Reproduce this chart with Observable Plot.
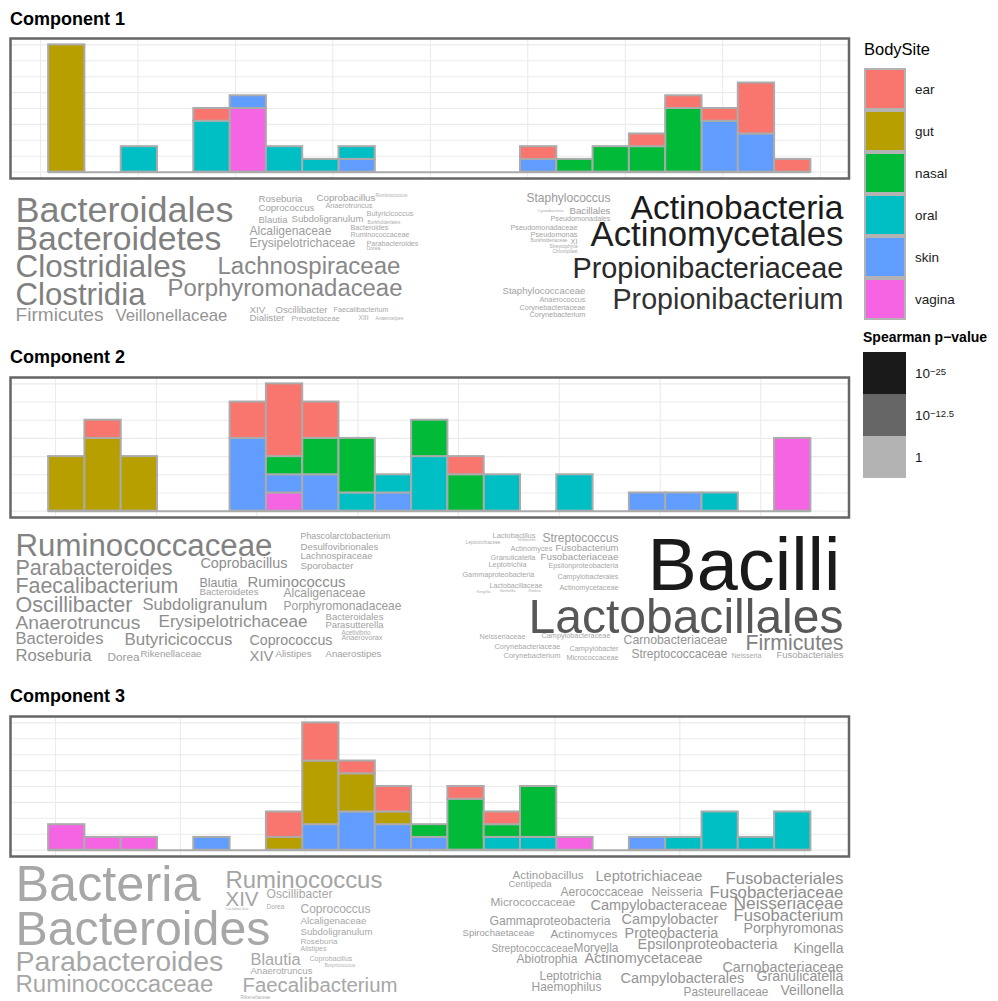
<!DOCTYPE html>
<html><head><meta charset="utf-8">
<script src="https://cdn.jsdelivr.net/npm/d3@7"></script>
<script src="https://cdn.jsdelivr.net/npm/@observablehq/plot@0.6"></script>
<style>
body{margin:0;background:#fff;font-family:"Liberation Sans",Arial,sans-serif;}
#page{position:relative;width:998px;height:1001px;overflow:hidden;background:#fff;}
#page svg{overflow:visible;background:transparent;}
.abs{position:absolute;white-space:nowrap;}
.key{position:absolute;box-sizing:border-box;}
.lab{position:absolute;font-size:13.5px;color:#1a1a1a;height:42px;display:flex;align-items:center;white-space:nowrap;}
.lab sup{font-size:9.5px;position:relative;top:-2px;}
</style></head><body><div id="page"></div>
<script>
// ---------------- data ----------------
const sites = ["ear","gut","nasal","oral","skin","vagina"];
const siteColors = ["#F8766D","#B79F00","#00BA38","#00BFC4","#619CFF","#F564E3"];
const stackBottomUp = ["vagina","skin","oral","nasal","gut","ear"];
const nBins = 21;

// counts per histogram bin (21 bins), Component 1
const c1_ear    = [0,0,0,0,1, 0,0,0,0,0, 0,0,0,1,0, 0,1,1,1,4, 1];
const c1_gut    = [10,0,0,0,0, 0,0,0,0,0, 0,0,0,0,0, 0,0,0,0,0, 0];
const c1_nasal  = [0,0,0,0,0, 0,0,0,0,0, 0,0,0,0,1, 2,2,5,0,0, 0];
const c1_oral   = [0,0,2,0,4, 0,2,1,1,0, 0,0,0,0,0, 0,0,0,0,0, 0];
const c1_skin   = [0,0,0,0,0, 1,0,0,1,0, 0,0,0,1,0, 0,0,0,4,3, 0];
const c1_vagina = [0,0,0,0,0, 5,0,0,0,0, 0,0,0,0,0, 0,0,0,0,0, 0];
// Component 2
const c2_ear    = [0,1,0,0,0, 2,4,2,0,0, 0,1,0,0,0, 0,0,0,0,0, 0];
const c2_gut    = [3,4,3,0,0, 0,0,0,0,0, 0,0,0,0,0, 0,0,0,0,0, 0];
const c2_nasal  = [0,0,0,0,0, 0,1,2,3,0, 2,2,0,0,0, 0,0,0,0,0, 0];
const c2_oral   = [0,0,0,0,0, 0,0,0,1,1, 3,0,2,0,2, 0,0,0,1,0, 0];
const c2_skin   = [0,0,0,0,0, 4,1,2,0,1, 0,0,0,0,0, 0,1,1,0,0, 0];
const c2_vagina = [0,0,0,0,0, 0,1,0,0,0, 0,0,0,0,0, 0,0,0,0,0, 4];
// Component 3
const c3_ear    = [0,0,0,0,0, 0,2,3,1,2, 0,1,1,0,0, 0,0,0,0,0, 0];
const c3_gut    = [0,0,0,0,0, 0,1,5,3,1, 0,0,0,0,0, 0,0,0,0,0, 0];
const c3_nasal  = [0,0,0,0,0, 0,0,0,0,0, 1,4,1,4,0, 0,0,0,0,0, 0];
const c3_oral   = [0,0,0,0,0, 0,0,0,0,0, 0,0,1,1,0, 0,0,1,3,1, 3];
const c3_skin   = [0,0,0,0,1, 0,0,2,3,2, 1,0,0,0,0, 0,1,0,0,0, 0];
const c3_vagina = [2,1,1,0,0, 0,0,0,0,0, 0,0,0,0,1, 0,0,0,0,0, 0];

// grid breaks (bin units / count units)
const c1_gridX = [-0.22, 2.46, 5.15, 7.83, 10.52, 13.2, 15.89, 18.57, 21.26];
const c2_gridX = [0.19, 2.97, 5.74, 8.52, 11.29, 14.07, 16.85, 19.62];
const c3_gridX = [0.19, 3.63, 7.07, 10.51, 13.95, 17.39, 20.83];
const c1_gridY = [0, 1.25, 2.5, 3.75, 5, 6.25, 7.5, 8.75, 10];
const c2_gridY = [0, 1, 2, 3, 4, 5, 6, 7];
const c3_gridY = [0, 1.25, 2.5, 3.75, 5, 6.25, 7.5, 8.75, 10];

// word clouds: [word, x, baseline y, width, log10 p-value]
const cloud1Words = [
 ["Bacteroidales",15,221,218,-8.3],["Bacteroidetes",15,249,206,-8.3],["Clostridiales",15,276,171,-8.3],["Clostridia",15,304,130,-8.3],
 ["Firmicutes",15,320,88,-5],["Veillonellaceae",115,320,112,-5],["Lachnospiraceae",217,273,183,-7],["Porphyromonadaceae",167,295,235,-7],
 ["Roseburia",258,201,44,-3],["Coprobacillus",316,200,59,-3],["Ruminococcus",375,196,32,-1],["Coprococcus",258,210,56,-3],
 ["Anaerotruncus",325,207,47,-2],["Butyricicoccus",366,215,47,-2],["Blautia",258,222,29,-3],["Subdoligranulum",291,221,72,-3],
 ["Burkholderiales",367,223,33,-1],["Alcaligenaceae",249,234,82,-3.5],["Bacteroides",350,229,38,-2],["Ruminococcaceae",350,236,59,-2],
 ["Erysipelotrichaceae",249,246,106,-3.5],["Parabacteroides",366,245,52,-2],["Dorea",366,249,14,-1],
 ["XIV",249,312,16,-2.5],["Oscillibacter",275,312,52,-2.5],["Faecalibacterium",333,311,55,-2],["Dialister",249,320,35,-2.5],
 ["Prevotellaceae",291,320,48,-2],["XIII",358,319,10,-1],["Anaerostipes",375,319,28,-1],
 ["Actinobacteria",630,218,213,-25],["Actinomycetales",590,245,253,-24],["Propionibacteriaceae",572,277,271,-22.5],["Propionibacterium",612,308,231,-21],
 ["Staphylococcus",526,201,84,-4],["Cyanobacteria",537,211,26,-1.5],["Bacillales",569,213,41,-4],["Pseudomonadales",550,220,60,-2.5],
 ["Pseudomonadaceae",510,229,67,-2.5],["Pseudomonas",530,236,47,-2.5],["Burkholderiaceae",530,241,37,-1.5],["XI",570,243,7,-3],
 ["Streptophyta",549,247,28,-1.5],["Chloroplast",552,252,25,-1.5],
 ["Staphylococcaceae",502,293,83,-3],["Anaerococcus",539,301,46,-2],["Corynebacteriaceae",519,309,66,-2.5],["Corynebacterium",529,316,56,-2.5]
];
const cloud2Words = [
 ["Ruminococcaceae",15,555,257,-8],["Parabacteroides",15,574,157,-6.5],["Faecalibacterium",15,592,163,-6.5],["Oscillibacter",15,611,117,-6.5],
 ["Anaerotruncus",15,628,125,-6],["Bacteroides",15,643,88,-6],["Roseburia",15,660,76,-6],["Coprobacillus",200,567,87,-6],
 ["Phascolarctobacterium",300,538,90,-3],["Desulfovibrionales",300,549,78,-3],["Lachnospiraceae",300,558,72,-3],["Sporobacter",300,568,53,-3],
 ["Blautia",199,586,38,-6],["Ruminococcus",247,586,98,-6],["Bacteroidetes",199,594,59,-3],["Alcaligenaceae",283,596,82,-4],
 ["Subdoligranulum",142,609,125,-6],["Porphyromonadaceae",283,609,118,-4],["Erysipelotrichaceae",158,626,149,-6],
 ["Bacteroidales",325,619,58,-3],["Parasutterella",325,627,58,-3],["Butyricicoccus",124,644,108,-6],["Coprococcus",249,644,83,-6],
 ["Acetivibrio",341,634,29,-2],["Anaerovorax",341,639,41,-2],["Dorea",107,660,32,-4],["Rikenellaceae",140,656,61,-3],
 ["XIV",249,660,24,-5],["Alistipes",275,656,36,-3],["Anaerostipes",325,656,56,-3],
 ["Bacilli",647,589,193,-25],["Lactobacillales",528,632,315,-15],["Firmicutes",745,649,98,-8],["Carnobacteriaceae",623,643,104,-5],
 ["Streptococcaceae",631,657,96,-5],["Neisseria",731,657,30,-2],["Fusobacteriales",776,657,67,-3],["Neisseriaceae",479,638,46,-1.5],
 ["Campylobacteraceae",541,637,69,-2],["Corynebacteriaceae",494,648,66,-2],["Campylobacter",569,650,49,-2],["Corynebacterium",503,657,57,-2],
 ["Micrococcaceae",566,659,52,-2],["Lactobacillus",492,537,43,-2],["Veillonella",517,540,18,-1],["Leptotrichiaceae",465,543,35,-1],
 ["Streptococcus",542,541,76,-4],["Actinomyces",510,550,42,-2],["Fusobacterium",555,550,63,-3.5],["Granulicatella",490,559,45,-2],
 ["Fusobacteriaceae",540,559,78,-3.5],["Leptotrichia",488,566,38,-2],["Epsilonproteobacteria",548,567,70,-2],["Gammaproteobacteria",462,576,72,-2],
 ["Campylobacterales",557,578,61,-2],["Lactobacillaceae",489,587,53,-2],["Actinomycetaceae",559,589,59,-2],["Kingella",476,592,14,-1],
 ["Gemella",499,591,16,-1],["Rothia",528,591,12,-1]
];
const cloud3Words = [
 ["Bacteria",15,900,185,-2],["Bacteroides",15,944,255,-2],["Parabacteroides",15,970,208,-2],["Ruminococcaceae",15,991,198,-2],
 ["Ruminococcus",225,887,157,-2.5],["XIV",225,905,33,-2.5],["Oscillibacter",266,897,66,-2],["Lactobacillus",225,909,23,-1],
 ["Dorea",266,908,18,-1],["Coprococcus",300,912,70,-2],["Alcaligenaceae",300,923,66,-2],["Subdoligranulum",300,934,72,-2],
 ["Roseburia",300,943,37,-1],["Alistipes",300,950,26,-1],["Blautia",250,964,50,-2],["Coprobacillus",309,960,43,-1],
 ["Butyricicoccus",324,966,31,-0.5],["Anaerotruncus",250,973,62,-2],["Faecalibacterium",242,991,155,-2],["Rikenellaceae",240,998,30,-0.5],
 ["Actinobacillus",512,878,71,-3.5],["Centipeda",508,886,43,-3],["Leptotrichiaceae",595,880,107,-4.5],["Fusobacteriales",725,883,118,-6],
 ["Aerococcaceae",560,895,83,-4],["Neisseria",651,895,51,-4],["Fusobacteriaceae",709,897,134,-6],["Micrococcaceae",490,905,85,-3.5],
 ["Campylobacteraceae",590,909,137,-5],["Neisseriaceae",733,908,110,-6],["Gammaproteobacteria",489,924,121,-4],["Campylobacter",621,923,97,-5],
 ["Fusobacterium",733,920,110,-6],["Spirochaetaceae",462,935,72,-3.5],["Actinomyces",550,937,67,-4],["Proteobacteria",624,937,94,-5],
 ["Porphyromonas",743,932,100,-5],["Streptococcaceae",491,951,82,-3.5],["Moryella",573,951,45,-4],["Epsilonproteobacteria",637,948,140,-5],
 ["Kingella",793,952,50,-5],["Abiotrophia",516,962,61,-4],["Actinomycetaceae",584,962,118,-5],["Carnobacteriaceae",722,971,121,-5],
 ["Leptotrichia",539,979,62,-4],["Campylobacterales",620,982,124,-5],["Granulicatella",756,980,87,-5],["Haemophilus",531,990,70,-4],
 ["Pasteurellaceae",683,995,85,-4],["Veillonella",780,994,63,-5]
];

const pLegendValues = [-25, -12.5, 0];
const pLegendLabels = ["10<sup>\u221225</sup>", "10<sup>\u221212.5</sup>", "1"];
const greyRange = ["#1A1A1A", "#666666", "#B3B3B3"];

// ---------------- drawing ----------------
const page = document.getElementById("page");
const FONT = "Liberation Sans";
const ctx = document.createElement("canvas").getContext("2d");
ctx.font = `100px "${FONT}"`;
const emWidth = t => ctx.measureText(t).width / 100;

function place(el, left, top) { el.style.position = "absolute"; el.style.left = left + "px"; el.style.top = top + "px"; page.appendChild(el); }
function textAt(html, left, baseline, size, weight) {
  const d = document.createElement("div");
  d.className = "abs";
  d.innerHTML = html;
  d.style.fontSize = size + "px"; d.style.lineHeight = size + "px";
  d.style.fontWeight = weight || "normal"; d.style.color = "#000";
  place(d, left, baseline - 0.8465 * size);
}

function histogram(counts, gridX, gridY) {
  const rows = [];
  for (const site of stackBottomUp) counts[site].forEach((n, i) => { if (n > 0) rows.push({bin: i, site, n}); });
  const totals = d3.range(nBins).map(i => d3.sum(sites, s => counts[s][i]));
  const yMax = d3.max(totals);
  return Plot.plot({
    width: 850, height: 144, marginLeft: 10, marginRight: 1.5, marginTop: 2, marginBottom: 2,
    x: {domain: [-0.05 * nBins, 1.05 * nBins], axis: null},
    y: {domain: [-0.05 * yMax, 1.05 * yMax], axis: null},
    color: {type: "ordinal", domain: sites, range: siteColors},
    marks: [
      Plot.ruleY(gridY, {stroke: "#EBEBEB", strokeWidth: 1.1}),
      Plot.ruleX(gridX, {stroke: "#EBEBEB", strokeWidth: 1.1}),
      Plot.ruleY([0], {x1: () => 0, x2: () => nBins, stroke: "#ABABAB", strokeWidth: 2}),
      Plot.rectY(rows, {x1: "bin", x2: d => d.bin + 1, y: "n", fill: "site",
        order: d => stackBottomUp.indexOf(d.site), stroke: "#ABABAB", strokeWidth: 2}),
      Plot.frame({stroke: "#666666", strokeWidth: 2.5})
    ]
  });
}

function cloud(words, top, bottom) {
  const rows = words.map(([text, x, y, w, logp]) => ({text, x, y, logp, size: w / emWidth(text)}));
  return Plot.plot({
    width: 850, height: bottom - top, margin: 0,
    x: {domain: [0, 850], range: [0, 850], axis: null},
    y: {domain: [top, bottom], range: [0, bottom - top], axis: null},
    color: {type: "linear", domain: pLegendValues, range: greyRange},
    marks: [
      Plot.text(rows, {x: "x", y: "y", text: "text", fontSize: d => d.size, fill: "logp",
        textAnchor: "start", lineAnchor: "bottom", fontFamily: FONT})
    ]
  });
}

const comps = [
  {title: "Component 1", baseline: 25, panelTop: 38,
   counts: {ear: c1_ear, gut: c1_gut, nasal: c1_nasal, oral: c1_oral, skin: c1_skin, vagina: c1_vagina},
   gridX: c1_gridX, gridY: c1_gridY, words: cloud1Words, cloudTop: 182, cloudBottom: 332},
  {title: "Component 2", baseline: 363, panelTop: 377,
   counts: {ear: c2_ear, gut: c2_gut, nasal: c2_nasal, oral: c2_oral, skin: c2_skin, vagina: c2_vagina},
   gridX: c2_gridX, gridY: c2_gridY, words: cloud2Words, cloudTop: 522, cloudBottom: 672},
  {title: "Component 3", baseline: 702, panelTop: 716,
   counts: {ear: c3_ear, gut: c3_gut, nasal: c3_nasal, oral: c3_oral, skin: c3_skin, vagina: c3_vagina},
   gridX: c3_gridX, gridY: c3_gridY, words: cloud3Words, cloudTop: 850, cloudBottom: 1001}
];

for (const c of comps) {
  textAt(c.title, 10, c.baseline, 18, "bold");
  place(histogram(c.counts, c.gridX, c.gridY), 0, c.panelTop - 2);
  place(cloud(c.words, c.cloudTop, c.cloudBottom), 0, c.cloudTop);
}

// legend: BodySite
textAt("BodySite", 864, 55, 16.5);
sites.forEach((s, i) => {
  const k = document.createElement("div");
  k.className = "key";
  k.style.width = "42px"; k.style.height = "42px";
  k.style.background = siteColors[i];
  k.style.border = "2px solid #B3B3B3";
  place(k, 864, 68 + i * 42);
  const l = document.createElement("div");
  l.className = "lab"; l.textContent = s;
  place(l, 915, 68 + i * 42);
});
// legend: Spearman p-value
textAt("Spearman p\u2212value", 863, 342, 14, "bold");
const greyScale = d3.scaleLinear().domain(pLegendValues).range(greyRange);
pLegendValues.forEach((v, i) => {
  const k = document.createElement("div");
  k.className = "key";
  k.style.width = "43px"; k.style.height = "42px";
  k.style.background = greyScale(v);
  place(k, 863, 352 + i * 42);
  const l = document.createElement("div");
  l.className = "lab"; l.innerHTML = pLegendLabels[i];
  place(l, 915, 352 + i * 42);
});
</script></body></html>
